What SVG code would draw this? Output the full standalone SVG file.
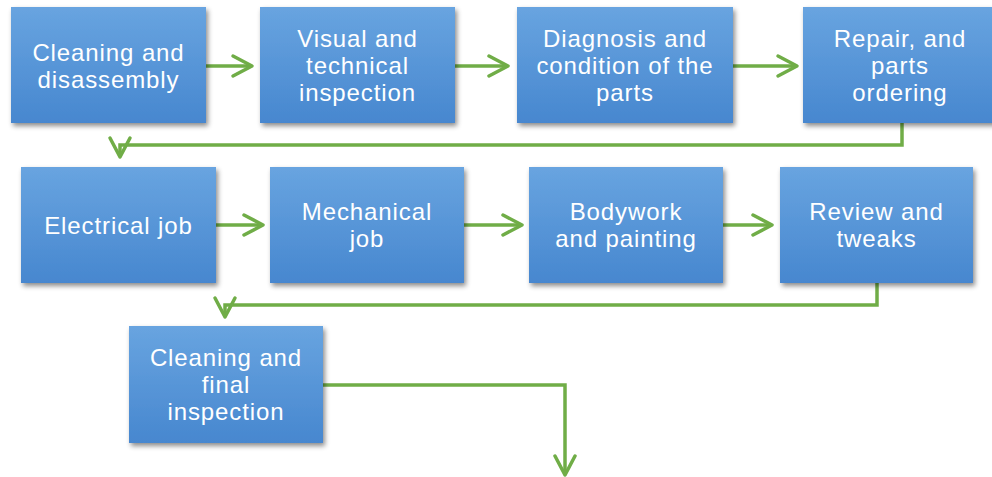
<svg xmlns="http://www.w3.org/2000/svg" width="992" height="477" viewBox="0 0 992 477">
  <defs>
    <linearGradient id="boxFill" x1="0" y1="0" x2="0" y2="1">
      <stop offset="0" stop-color="#68A4E0"/>
      <stop offset="1" stop-color="#4787CF"/>
    </linearGradient>
    <filter id="shadow" x="-10%" y="-10%" width="125%" height="130%">
      <feDropShadow dx="2" dy="3" stdDeviation="2.5" flood-color="#000" flood-opacity="0.45"/>
    </filter>
    <marker id="chevron" markerUnits="userSpaceOnUse" markerWidth="26" markerHeight="26" viewBox="-23 -13 26 26" refX="0" refY="0" orient="auto">
      <path d="M-19,-10 L0,0 L-19,10" fill="none" stroke="#70AD47" stroke-width="3.5" stroke-linejoin="round" stroke-linecap="round"/>
    </marker>
  </defs>
  <style>
    .box { fill: url(#boxFill); filter: url(#shadow); }
    .lbl { fill: #FFFFFF; font-family: "Liberation Sans", Arial, sans-serif; font-size: 24px; letter-spacing: 0.9px; text-anchor: middle; }
    .link { fill: none; stroke: #70AD47; stroke-width: 3.5; marker-end: url(#chevron); }
  </style>
  <rect width="992" height="477" fill="#FFFFFF"/>

  <g id="connectors">
    <path class="link" d="M206,66 L252,66"/>
    <path class="link" d="M455,66 L508,66"/>
    <path class="link" d="M733,66 L797,66"/>
    <path class="link" d="M902,123 L902,145 L120,145 L120,157"/>
    <path class="link" d="M216,225 L263,225"/>
    <path class="link" d="M464,225 L522,225"/>
    <path class="link" d="M723,225 L772,225"/>
    <path class="link" d="M877,283 L877,305 L225,305 L225,317"/>
    <path class="link" d="M323,385 L565,385 L565,475"/>
  </g>

  <g id="cleaning-disassembly">
    <rect class="box" x="11" y="7" width="195" height="116"/>
    <text class="lbl" x="108.5" y="60.5">Cleaning and</text>
    <text class="lbl" x="108.5" y="87.5">disassembly</text>
  </g>
  <g id="visual-technical-inspection">
    <rect class="box" x="260" y="7" width="195" height="116"/>
    <text class="lbl" x="357.5" y="47">Visual and</text>
    <text class="lbl" x="357.5" y="74">technical</text>
    <text class="lbl" x="357.5" y="101">inspection</text>
  </g>
  <g id="diagnosis-condition">
    <rect class="box" x="517" y="7" width="216" height="116"/>
    <text class="lbl" x="625" y="47">Diagnosis and</text>
    <text class="lbl" x="625" y="74">condition of the</text>
    <text class="lbl" x="625" y="101">parts</text>
  </g>
  <g id="repair-parts-ordering">
    <rect class="box" x="803" y="7" width="194" height="116"/>
    <text class="lbl" x="900" y="47">Repair, and</text>
    <text class="lbl" x="900" y="74">parts</text>
    <text class="lbl" x="900" y="101">ordering</text>
  </g>

  <g id="electrical-job">
    <rect class="box" x="21" y="167" width="195" height="116"/>
    <text class="lbl" x="118.5" y="234">Electrical job</text>
  </g>
  <g id="mechanical-job">
    <rect class="box" x="270" y="167" width="194" height="116"/>
    <text class="lbl" x="367" y="220">Mechanical</text>
    <text class="lbl" x="367" y="247">job</text>
  </g>
  <g id="bodywork-painting">
    <rect class="box" x="529" y="167" width="194" height="116"/>
    <text class="lbl" x="626" y="220">Bodywork</text>
    <text class="lbl" x="626" y="247">and painting</text>
  </g>
  <g id="review-tweaks">
    <rect class="box" x="780" y="167" width="193" height="116"/>
    <text class="lbl" x="876.5" y="220">Review and</text>
    <text class="lbl" x="876.5" y="247">tweaks</text>
  </g>

  <g id="cleaning-final-inspection">
    <rect class="box" x="129" y="326" width="194" height="117"/>
    <text class="lbl" x="226" y="366">Cleaning and</text>
    <text class="lbl" x="226" y="393">final</text>
    <text class="lbl" x="226" y="420">inspection</text>
  </g>
</svg>
